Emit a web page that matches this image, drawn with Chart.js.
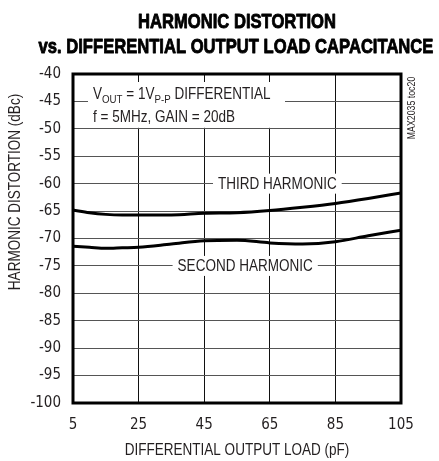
<!DOCTYPE html>
<html>
<head>
<meta charset="utf-8">
<script src="https://cdn.jsdelivr.net/npm/chart.js@4/dist/chart.umd.min.js"></script>
<style>
  html, body { margin: 0; padding: 0; background: #fff; }
  #wrap { width: 439px; height: 461px; position: relative; }
</style>
</head>
<body>
<div id="wrap"><canvas id="c" width="439" height="461"></canvas></div>
<script>
// ---- data ----
const loads = [5, 10, 15, 20, 25, 35, 45, 55, 65, 75, 85, 95, 105];
const thirdHarmonic = [-64.8, -65.3, -65.6, -65.7, -65.7, -65.7, -65.4, -65.3, -64.9, -64.3, -63.6, -62.7, -61.7];
const secondHarmonic = [-71.4, -71.6, -71.8, -71.7, -71.6, -71.0, -70.4, -70.3, -70.8, -71.0, -70.6, -69.5, -68.5];
const xTicks = [5, 25, 45, 65, 85, 105];
const yTicks = [-100, -95, -90, -85, -80, -75, -70, -65, -60, -55, -50, -45, -40];
const titleLines = ["HARMONIC DISTORTION", "vs. DIFFERENTIAL OUTPUT LOAD CAPACITANCE"];
const xTitle = "DIFFERENTIAL OUTPUT LOAD (pF)";
const yTitle = "HARMONIC DISTORTION (dBc)";
const seriesNames = ["THIRD HARMONIC", "SECOND HARMONIC"];
const condLine1 = [["V", 0], ["OUT", 1], [" = 1V", 0], ["P-P", 1], [" DIFFERENTIAL", 0]];
const condLine2 = "f = 5MHz, GAIN = 20dB";
const figId = "MAX2035 toc20";

const SANS = '"Liberation Sans", Arial, sans-serif';
const TICKFONT = '"DejaVu Sans Condensed", "Liberation Sans", sans-serif';
const TXT = '#231f20';
const NARROW = 0.845;
const FS = 16;

// draw text compressed horizontally (narrow face emulation)
function narrowText(ctx, text, x, y, font, align, sx, stroke) {
  ctx.save();
  ctx.font = font;
  const w = ctx.measureText(text).width * sx;
  let left = x;
  if (align === 'center') left = x - w / 2;
  else if (align === 'right') left = x - w;
  ctx.translate(left, y);
  ctx.scale(sx, 1);
  ctx.textAlign = 'left';
  ctx.fillText(text, 0, 0);
  if (stroke) {
    ctx.lineWidth = stroke;
    ctx.strokeStyle = ctx.fillStyle;
    ctx.lineJoin = 'round';
    ctx.strokeText(text, 0, 0);
  }
  ctx.restore();
  return w;
}

function drawRuns(ctx, runs, x, y, size, sx) {
  let cx = x;
  for (const [t, sub] of runs) {
    const s = sub ? size * 0.72 : size;
    cx += narrowText(ctx, t, cx, y + (sub ? size * 0.2 : 0), s + 'px ' + SANS, 'left', sx);
  }
  return cx - x;
}

const deco = {
  id: 'deco',
  beforeDatasetsDraw(chart) {
    const ctx = chart.ctx;
    const xs = chart.scales.x, ys = chart.scales.y;
    ctx.save();
    ctx.fillStyle = '#fff';
    // condition box
    const bx0 = xs.left + 15, by0 = ys.top + 8;
    ctx.fillRect(bx0, by0, 197, ys.getPixelForValue(-50) - 1 - by0);
    // series label boxes
    ctx.textBaseline = 'middle';
    const labs = [
      [seriesNames[0], xs.getPixelForValue(67.3), ys.getPixelForValue(-60)],
      [seriesNames[1], xs.getPixelForValue(57.5), ys.getPixelForValue(-75)]
    ];
    for (const [t, px, py] of labs) {
      ctx.font = FS + 'px ' + SANS;
      const w = ctx.measureText(t).width * NARROW + 10;
      ctx.fillStyle = '#fff';
      ctx.fillRect(px - w / 2, py - 10, w, 20);
      ctx.fillStyle = TXT;
      narrowText(ctx, t, px, py + 1, FS + 'px ' + SANS, 'center', NARROW);
    }
    // condition text
    ctx.fillStyle = TXT;
    ctx.textBaseline = 'alphabetic';
    drawRuns(ctx, condLine1, xs.left + 20, ys.getPixelForValue(-45) - 2, FS, NARROW);
    narrowText(ctx, condLine2, xs.left + 20, ys.getPixelForValue(-45) + 21, FS + 'px ' + SANS, 'left', NARROW);
    ctx.restore();
  },
  afterDraw(chart) {
    const ctx = chart.ctx;
    const a = chart.chartArea;
    ctx.save();
    // border
    ctx.strokeStyle = '#000';
    ctx.lineWidth = 3;
    ctx.strokeRect(a.left, a.top, a.right - a.left, a.bottom - a.top);
    // title
    ctx.fillStyle = '#000';
    ctx.textBaseline = 'alphabetic';
    narrowText(ctx, titleLines[0], 237, 28, 'bold 21px ' + SANS, 'center', 0.79, 0.9);
    narrowText(ctx, titleLines[1], 236, 53, 'bold 21px ' + SANS, 'center', 0.79, 0.9);
    // axis titles
    ctx.fillStyle = TXT;
    narrowText(ctx, xTitle, 237, 455, FS + 'px ' + SANS, 'center', NARROW);
    ctx.save();
    ctx.translate(20, 192);
    ctx.rotate(-Math.PI / 2);
    narrowText(ctx, yTitle, 0, 0, FS + 'px ' + SANS, 'center', NARROW);
    ctx.restore();
    // figure id
    ctx.save();
    ctx.translate(415, 108);
    ctx.rotate(-Math.PI / 2);
    narrowText(ctx, figId, 0, 0, '11px ' + SANS, 'center', 0.8);
    ctx.restore();
    ctx.restore();
  }
};

new Chart(document.getElementById('c'), {
  type: 'line',
  data: {
    datasets: [
      { label: seriesNames[0], data: loads.map((x, i) => ({ x, y: thirdHarmonic[i] })) },
      { label: seriesNames[1], data: loads.map((x, i) => ({ x, y: secondHarmonic[i] })) }
    ]
  },
  options: {
    responsive: false,
    animation: false,
    devicePixelRatio: 1,
    layout: { padding: { left: 0, right: 38, top: 74, bottom: 0 } },
    elements: {
      line: { borderColor: '#000', borderWidth: 3, cubicInterpolationMode: 'monotone', fill: false },
      point: { radius: 0 }
    },
    plugins: { legend: { display: false }, tooltip: { enabled: false }, title: { display: false } },
    scales: {
      x: {
        type: 'linear', min: 5, max: 105,
        afterBuildTicks: s => { s.ticks = xTicks.map(v => ({ value: v })); },
        afterFit: s => { s.height = 58; },
        grid: { color: '#111', lineWidth: 1, drawTicks: false },
        border: { display: false },
        ticks: { color: TXT, font: { family: TICKFONT, size: 15 }, padding: 13, maxRotation: 0, autoSkip: false }
      },
      y: {
        type: 'linear', min: -100, max: -40,
        afterBuildTicks: s => { s.ticks = yTicks.map(v => ({ value: v })); },
        afterFit: s => { s.width = 73; },
        grid: { color: '#555', lineWidth: 1, drawTicks: false },
        border: { display: false },
        ticks: { color: TXT, font: { family: TICKFONT, size: 15 }, padding: 12, autoSkip: false }
      }
    }
  },
  plugins: [deco]
});
</script>
</body>
</html>
